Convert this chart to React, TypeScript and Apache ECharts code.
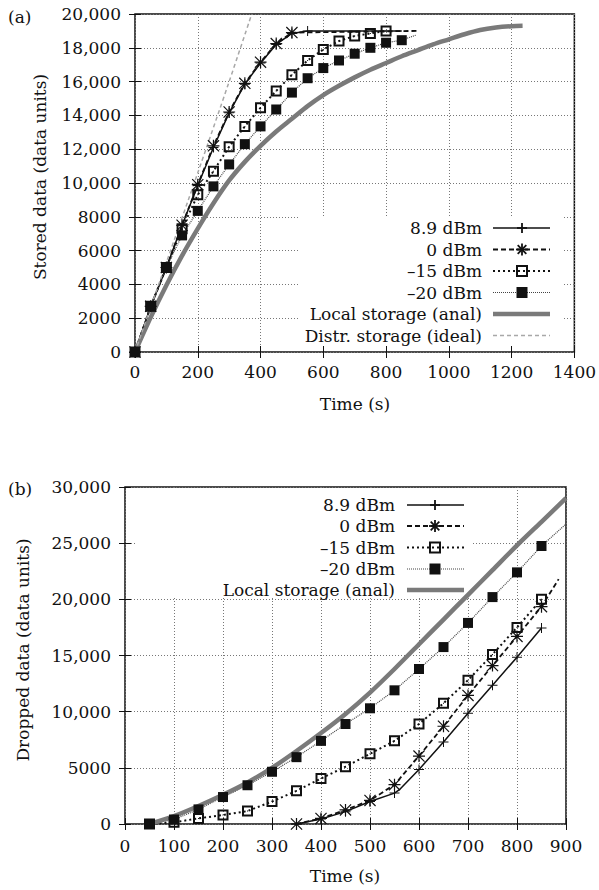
import React, { useEffect, useRef } from "react";
import * as echarts from "echarts";

// ---------- Data: chart (a) Stored data ----------
const topXTicks = [0, 200, 400, 600, 800, 1000, 1200, 1400];
const topYTicks = [0, 2000, 4000, 6000, 8000, 10000, 12000, 14000, 16000, 18000, 20000];

const a_p89: any[] = [[0, 0], [50, 2700], [100, 5000], [150, 7500], [200, 9850], [250, 12100], [300, 14150], [350, 15850], [400, 17100], [450, 18200], [500, 18850], [550, 19000], { value: [850, 19000], symbol: "none" }];
const a_p0: any[] = [[0, 0], [50, 2700], [100, 5000], [150, 7500], [200, 9900], [250, 12200], [300, 14200], [350, 15900], [400, 17150], [450, 18250], [500, 18900], { value: [900, 19000], symbol: "none" }];
const a_m15: any[] = [[0, 0], [50, 2700], [100, 5000], [150, 7300], [200, 9300], [250, 10700], [300, 12150], [350, 13350], [400, 14450], [450, 15450], [500, 16400], [550, 17250], [600, 17900], [650, 18400], [700, 18700], [750, 18850], [800, 19000]];
const a_m20: any[] = [[0, 0], [50, 2700], [100, 5000], [150, 6900], [200, 8350], [250, 9800], [300, 11100], [350, 12300], [400, 13350], [450, 14350], [500, 15350], [550, 16200], [600, 16800], [650, 17250], [700, 17650], [750, 18000], [800, 18300], [850, 18450], { value: [895, 18750], symbol: "none" }];
const a_local: number[][] = [[0, 0], [50, 2050], [100, 3950], [150, 5700], [200, 7300], [250, 8800], [300, 10150], [350, 11250], [400, 12200], [450, 13050], [500, 13800], [550, 14550], [600, 15200], [650, 15750], [700, 16250], [750, 16700], [800, 17100], [850, 17500], [900, 17850], [950, 18200], [1000, 18500], [1050, 18800], [1100, 19050], [1150, 19200], [1200, 19280], [1235, 19300]];
const a_ideal: number[][] = [[0, 0], [100, 5300], [200, 10600], [300, 16000], [372, 20000]];

// ---------- Data: chart (b) Dropped data ----------
const botXTicks = [0, 100, 200, 300, 400, 500, 600, 700, 800, 900];
const botYTicks = [0, 5000, 10000, 15000, 20000, 25000, 30000];

const b_p89: any[] = [[350, 0], [400, 450], [450, 1100], [500, 2000], [550, 2750], { value: [560, 3050], symbol: "none" }, [600, 4850], [650, 7300], [700, 9850], [750, 12350], [800, 14850], [850, 17450]];
const b_p0: any[] = [[350, 0], [400, 500], [450, 1250], [500, 2100], [550, 3500], [600, 6050], [650, 8700], [700, 11450], [750, 14100], [800, 16700], [850, 19350], { value: [885, 21800], symbol: "none" }];
const b_m15: any[] = [[50, 0], [100, 150], [150, 500], [200, 800], [250, 1150], [300, 2000], [350, 2950], [400, 4050], [450, 5100], [500, 6250], [550, 7400], [600, 8900], [650, 10750], [700, 12800], [750, 15100], [800, 17500], [850, 20000]];
const b_m20: any[] = [[50, 0], [100, 400], [150, 1300], [200, 2400], [250, 3450], [300, 4650], [350, 5950], [400, 7400], [450, 8900], [500, 10300], [550, 11900], [600, 13800], [650, 15750], [700, 17900], [750, 20200], [800, 22400], [850, 24750], { value: [900, 26700], symbol: "none" }];
const b_local: number[][] = [[50, 0], [100, 700], [150, 1600], [200, 2600], [250, 3700], [300, 5000], [350, 6500], [400, 8100], [450, 9800], [500, 11700], [550, 13800], [600, 16000], [650, 18200], [700, 20400], [750, 22600], [800, 24800], [850, 26900], [900, 29000]];

const topLegend = ["8.9 dBm", "0 dBm", "\u201315 dBm", "\u201320 dBm", "Local storage (anal)", "Distr. storage (ideal)"];
const botLegend = ["8.9 dBm", "0 dBm", "\u201315 dBm", "\u201320 dBm", "Local storage (anal)"];

// ---------- Styles ----------
const FONT = "DejaVu Serif";
const FS = 17;
const PLUS = "path://M9,0H11V9H20V11H11V20H9V11H0V9H9Z";
const STAR = "path://M9,0H11V9H20V11H11V20H9V11H0V9H9Z M1.4,0L20,18.6L18.6,20L0,1.4Z M18.6,0L20,1.4L1.4,20L0,18.6Z";
const OPENSQ = "path://M0,0H22V22H0Z M4,4V18H18V4Z M10,10H12V12H10Z";

type Sty = { stroke: string; width: number; dash: number[] | null; symbol: string; size: number; marker: string };
const styles: Sty[] = [
  { stroke: "#111", width: 1.5, dash: null, symbol: PLUS, size: 10, marker: "plus" },
  { stroke: "#111", width: 1.8, dash: [5, 3], symbol: STAR, size: 12, marker: "star" },
  { stroke: "#111", width: 2, dash: [2, 3], symbol: OPENSQ, size: 11, marker: "open" },
  { stroke: "#444", width: 1.2, dash: [1, 1], symbol: "rect", size: 10, marker: "filled" },
  { stroke: "#7a7a7a", width: 4.5, dash: null, symbol: "none", size: 0, marker: "none" },
  { stroke: "#a8a8a8", width: 1.5, dash: [4, 3], symbol: "none", size: 0, marker: "none" },
];

const fmtY = (v: number) => (v >= 10000 ? String(v).replace(/\B(?=(\d{3})+(?!\d))/g, ",") : String(v));

function mkSeries(data: any[], s: Sty, xi: number, yi: number, smooth = false) {
  return {
    type: "line",
    xAxisIndex: xi,
    yAxisIndex: yi,
    data,
    smooth: smooth ? 0.3 : false,
    symbol: s.symbol,
    symbolSize: s.size,
    showSymbol: s.symbol !== "none",
    lineStyle: { color: s.stroke, width: s.width, type: s.dash ? s.dash : "solid" },
    itemStyle: { color: "#111", borderWidth: 0 },
    emphasis: { disabled: true },
    clip: true,
  };
}

function legendGraphics(labels: string[], box: { x: number; y: number; w: number; h: number }, rows: number[], textRight: number, x1: number, x2: number, mx: number) {
  const els: any[] = [];
  els.push({ type: "rect", z: 1, shape: { x: box.x, y: box.y, width: box.w, height: box.h }, style: { fill: "#fff" } });
  labels.forEach((lab, i) => {
    const s = styles[i];
    const cy = rows[i];
    els.push({ type: "text", z: 6, style: { text: lab, x: textRight, y: cy, align: "right", verticalAlign: "middle", fontFamily: FONT, fontSize: FS, fill: "#111" } });
    els.push({ type: "line", z: 6, shape: { x1, y1: cy, x2, y2: cy }, style: { stroke: s.stroke, lineWidth: s.width, lineDash: s.dash || undefined } });
    if (s.marker === "plus") {
      els.push({ type: "line", z: 7, shape: { x1: mx - 5, y1: cy, x2: mx + 5, y2: cy }, style: { stroke: "#111", lineWidth: 1.8 } });
      els.push({ type: "line", z: 7, shape: { x1: mx, y1: cy - 5, x2: mx, y2: cy + 5 }, style: { stroke: "#111", lineWidth: 1.8 } });
    } else if (s.marker === "star") {
      const d = 6, e = 4.3;
      els.push({ type: "line", z: 7, shape: { x1: mx - d, y1: cy, x2: mx + d, y2: cy }, style: { stroke: "#111", lineWidth: 1.8 } });
      els.push({ type: "line", z: 7, shape: { x1: mx, y1: cy - d, x2: mx, y2: cy + d }, style: { stroke: "#111", lineWidth: 1.8 } });
      els.push({ type: "line", z: 7, shape: { x1: mx - e, y1: cy - e, x2: mx + e, y2: cy + e }, style: { stroke: "#111", lineWidth: 1.8 } });
      els.push({ type: "line", z: 7, shape: { x1: mx - e, y1: cy + e, x2: mx + e, y2: cy - e }, style: { stroke: "#111", lineWidth: 1.8 } });
    } else if (s.marker === "open") {
      els.push({ type: "rect", z: 7, shape: { x: mx - 5, y: cy - 5, width: 10, height: 10 }, style: { fill: "none", stroke: "#111", lineWidth: 2 } });
    } else if (s.marker === "filled") {
      els.push({ type: "rect", z: 7, shape: { x: mx - 5.5, y: cy - 5.5, width: 11, height: 11 }, style: { fill: "#111" } });
    }
  });
  return els;
}

function axisPair(gi: number, min: number, max: number, interval: number, isX: boolean, labels: boolean) {
  const common = {
    type: "value",
    gridIndex: gi,
    min,
    max,
    interval,
    axisLine: { show: false },
    axisTick: { show: true, inside: true, length: 6, lineStyle: { color: "#111", width: 1 } },
  };
  const main = {
    ...common,
    position: isX ? "bottom" : "left",
    axisLabel: {
      show: labels,
      fontFamily: FONT,
      fontSize: FS,
      color: "#111",
      margin: isX ? (gi === 0 ? 11 : 13) : 14,
      formatter: isX ? (v: number) => String(v) : fmtY,
    },
    splitLine: { show: true, lineStyle: { color: "#777", width: 1, type: [1, 2] } },
  };
  const mirror = {
    ...common,
    position: isX ? "top" : "right",
    z: 10,
    axisLabel: { show: false },
    splitLine: { show: false },
  };
  return [main, mirror];
}

export default function App() {
  const ref = useRef<HTMLDivElement>(null);
  useEffect(() => {
    if (!ref.current) return;
    const chart = echarts.init(ref.current, undefined, { renderer: "svg" });
    const [ax0, ax1] = axisPair(0, topXTicks[0], topXTicks[topXTicks.length - 1], 200, true, true);
    const [ax2, ax3] = axisPair(1, botXTicks[0], botXTicks[botXTicks.length - 1], 100, true, true);
    const [ay0, ay1] = axisPair(0, topYTicks[0], topYTicks[topYTicks.length - 1], 2000, false, true);
    const [ay2, ay3] = axisPair(1, botYTicks[0], botYTicks[botYTicks.length - 1], 5000, false, true);

    const textEl = (text: string, x: number, y: number, rot = 0, align = "center") => ({
      type: "text",
      x,
      y,
      rotation: rot,
      z: 8,
      style: { text, x: 0, y: 0, align, verticalAlign: "middle", fontFamily: FONT, fontSize: FS, fill: "#111" },
    });

    const option: any = {
      animation: false,
      backgroundColor: "#fff",
      grid: [
        { left: 135, top: 14, width: 441, height: 338, show: true, borderColor: "#111", borderWidth: 1.5, backgroundColor: "transparent" },
        { left: 125, top: 487, width: 441, height: 337, show: true, borderColor: "#111", borderWidth: 1.5, backgroundColor: "transparent" },
      ],
      xAxis: [ax0, ax1, ax2, ax3],
      yAxis: [ay0, ay1, ay2, ay3],
      series: [
        mkSeries(a_p89, styles[0], 0, 0),
        mkSeries(a_p0, styles[1], 0, 0),
        mkSeries(a_m15, styles[2], 0, 0),
        mkSeries(a_m20, styles[3], 0, 0),
        mkSeries(a_local, styles[4], 0, 0, true),
        mkSeries(a_ideal, styles[5], 0, 0, true),
        mkSeries(b_p89, styles[0], 2, 2),
        mkSeries(b_p0, styles[1], 2, 2),
        mkSeries(b_m15, styles[2], 2, 2),
        mkSeries(b_m20, styles[3], 2, 2),
        mkSeries(b_local, styles[4], 2, 2, true),
      ],
      graphic: [
        ...legendGraphics(topLegend, { x: 298, y: 216, w: 265, h: 130 }, [228, 249.5, 271, 292.5, 314, 335.5], 482, 493, 550, 522),
        ...legendGraphics(botLegend, { x: 137, y: 489, w: 336, h: 109 }, [505, 526, 547.5, 569, 590], 395, 407, 464, 435),
        textEl("(a)", 8, 17, 0, "left"),
        textEl("(b)", 8, 489, 0, "left"),
        textEl("Stored data (data units)", 40, 177, Math.PI / 2),
        textEl("Dropped data (data units)", 23, 650, Math.PI / 2),
        textEl("Time (s)", 355, 404),
        textEl("Time (s)", 345, 876),
      ],
    };
    chart.setOption(option);
    return () => chart.dispose();
  }, []);
  return <div ref={ref} style={{ position: "absolute", left: 0, top: 0, width: 599, height: 890, background: "#fff" }} />;
}
